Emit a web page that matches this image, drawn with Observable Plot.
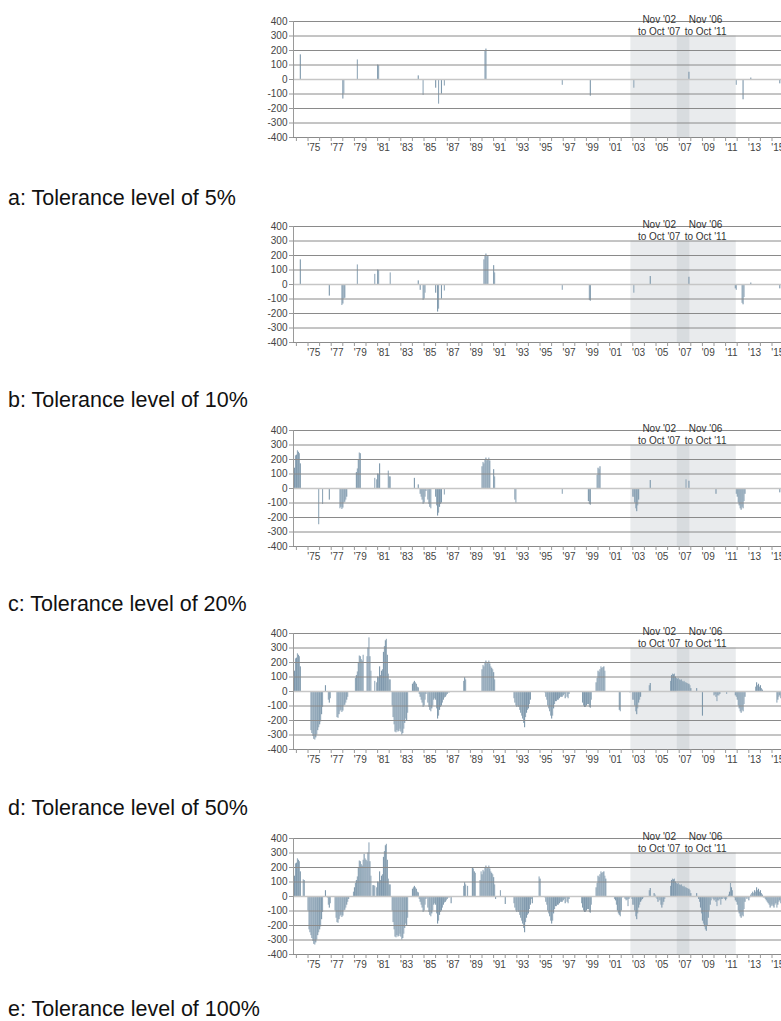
<!DOCTYPE html>
<html><head><meta charset="utf-8">
<script src="https://cdn.jsdelivr.net/npm/d3@7"></script>
<script src="https://cdn.jsdelivr.net/npm/@observablehq/plot@0.6"></script>
<style>
html,body{margin:0;padding:0;overflow:hidden;background:#fff;width:781px;height:1021px;position:relative}
.panel{position:absolute;left:0;width:791px}
.panel svg{max-width:none !important;width:791px;height:170px}
.label{position:absolute;left:8px;font-family:"Liberation Sans",Arial,sans-serif;font-size:21.5px;line-height:24px;color:#111;white-space:nowrap}
</style></head><body>
<script>
// Monthly series (index 0 = Oct 1973)
const firstMonthIndex = 9; // months after Jan 1973
const values = [
  105, 140, 225,                                                   // 1973 Oct-Dec
  230, 260, 250, 240, 170, 0, 0, 115, 110, 0, 0, 0,                 // 1974
  -100, -230, -250, -270, -290, -310, -330, -335, -320, -300, -270, -250, // 1975
  -230, -210, -160, -110, 0, 0, 40, 0, -10, -60, -80, -50,          // 1976
  0, 0, 0, 0, -100, -150, -180, -185, -160, -140, -130, -145,       // 1977
  -135, -100, -95, -80, -60, -40, -20, 0, 0, 0, 0, 30,              // 1978
  60, 90, 110, 135, 200, 245, 240, 220, 210, 250, 290, 260,         // 1979
  250, 240, 300, 370, 240, 140, 0, 75, 75, 70, 0, 60,               // 1980
  100, 95, 170, 110, 140, 150, 270, 310, 350, 360, 250, 120,        // 1981
  80, 80, 0, -100, -180, -230, -280, -285, -270, -280, -275, -260,  // 1982
  -280, -300, -290, -260, -220, -190, -200, -150, 0, 0, 0, 0,       // 1983
  50, 60, 70, 60, 50, 30, 25, -20, -40, -60, -80, -110,             // 1984
  -100, -60, -20, -10, -80, -110, -130, -140, -120, -100, -60, -50, // 1985
  -60, -120, -190, -170, -130, -110, -100, -80, -60, -45, -40, -30, // 1986
  -20, -10, -10, -5, -50, 0, 0, 0, 0, 0, 0, 0,                      // 1987
  0, 0, 0, 0, 0, 70, 95, 80, 0, 70, 0, 0,                           // 1988
  0, 0, 200, 190, 170, 160, 0, 0, 0, 0, 110, 170,                   // 1989
  150, 180, 170, 200, 210, 190, 200, 210, 190, 170, 160, 150,       // 1990
  130, 80, -20, 0, 0, 0, 0, 40, 0, 0, 0, 0,                         // 1991
  -55, 0, 0, 0, 0, 0, 0, 0, 0, -50, -80, -100,                      // 1992
  -110, -100, -110, -130, -150, -170, -190, -220, -250, -180, -150, -130, // 1993
  -120, -90, -60, -20, -50, 0, 0, 0, 0, 0, 0, 135,                  // 1994
  120, 0, 0, 0, 0, -10, -40, -60, -100, -120, -140, -170,           // 1995
  -190, -170, -120, -90, -70, -70, -60, -60, -50, -40, -40, -40,    // 1996
  -30, -20, -50, -10, -40, -50, -20, 0, 0, 0, 0, 0,                 // 1997
  0, 0, 0, 0, 0, 0, 0, -50, -80, -100, -110, -110,                  // 1998
  -100, -90, -90, -110, -115, -60, 0, 0, 0, 0, 60, 90,              // 1999
  140, 130, 150, 170, 160, 165, 170, 140, 120, 0, 0, 0,             // 2000
  0, 0, 0, 0, 0, -20, -30, -60, -100, -120, -130, -140,             // 2001
  -100, -10, -5, -10, -20, -30, -25, -70, -20, -10, 0, -20,         // 2002
  -60, -60, -100, -140, -160, -120, -80, -60, -40, -30, -20, -10,   // 2003
  0, 0, 0, 0, 0, 40, 55, 0, 0, 0, 20, 10,                           // 2004
  -10, -20, -40, -10, -30, -60, -80, -60, -40, -20, 0, 0,           // 2005
  0, 0, 0, 70, 110, 120, 115, 120, 100, 90, 85, 90,                 // 2006
  80, 75, 80, 70, 65, 70, 60, 60, 55, 50, 50, 40,                   // 2007
  20, 0, -5, 0, 0, 0, 20, 0, -20, -40, -80, -120,                   // 2008
  -170, -190, -210, -230, -240, -200, -150, -100, -60, -30, -10, -20, // 2009
  -30, -20, -40, -70, -30, -30, -20, -60, -20, -20, -10, -20,       // 2010
  -30, -20, 0, 10, 30, 90, 60, 40, 0, -10, -30, -40,                // 2011
  -60, -100, -120, -140, -150, -130, -140, -90, -40, -10, -20, -10, // 2012
  -30, -10, 10, 20, 30, 20, 40, 30, 60, 40, 50, 30,                 // 2013
  40, 20, 10, -10, -10, -20, -30, -40, -50, -60, -80, -70,          // 2014
  -60, -70, -80, -60, -50, -80, -60, -40, -30, -50, -40, -30        // 2015
];

// Month ranges (months after Jan 1973, inclusive) shown at each tolerance level
const shownA = [[9,9],[16,16],[60,61],[75,75],[96,97],[138,138],[143,143],[156,156],[159,159],[162,162],[165,165],[207,208],[287,287],[316,316],[361,361],[418,418],[467,467],[474,474],[482,482],[512,512]];
const shownB = [[9,9],[16,16],[46,46],[59,62],[75,75],[93,93],[96,97],[109,109],[138,138],[140,140],[143,145],[156,156],[158,159],[162,162],[165,165],[206,210],[216,217],[287,287],[315,316],[361,361],[378,378],[418,418],[466,467],[473,475],[482,482],[512,512]];
const shownC = [[9,16],[35,35],[39,39],[46,46],[57,64],[74,78],[93,98],[107,109],[134,134],[138,138],[140,146],[148,151],[156,162],[165,165],[204,212],[216,217],[238,239],[287,287],[314,316],[323,326],[360,366],[378,378],[415,415],[418,418],[446,446],[467,476],[512,512]];
const shownD = [[9,16],[27,39],[42,42],[45,47],[54,65],[73,81],[85,89],[93,109],[111,127],[132,146],[148,170],[185,187],[204,217],[237,254],[269,294],[308,317],[322,331],[346,347],[357,357],[360,368],[377,378],[399,420],[426,426],[432,432],[444,450],[457,457],[466,476],[487,494],[509,513]];
const shownE = [[0,600]];

const panelNames = ["a: Tolerance level of 5%", "b: Tolerance level of 10%", "c: Tolerance level of 20%", "d: Tolerance level of 50%", "e: Tolerance level of 100%"];
const panelMasks = [shownA, shownB, shownC, shownD, shownE];

// Highlighted periods
const regionStart = [2002 + 10/12, 2006 + 10/12];
const regionEnd = [2007 + 11/12, 2011 + 11/12];
const regionLine1 = ["Nov '02", "Nov '06"];
const regionLine2 = ["to Oct '07", "to Oct '11"];

const yTicks = [-400, -300, -200, -100, 0, 100, 200, 300, 400];
const yearTicks = d3.range(1974, 2017);
const labelYears = d3.range(1975, 2016, 2);

// layout
const panelTops = [0, 205, 409, 612, 817];
const labelCenters = [198, 400, 604, 808, 1009];

const regions = regionStart.map((s, i) => ({start: s, end: regionEnd[i], mid: (s + regionEnd[i]) / 2 - 0.1, l1: regionLine1[i], l2: regionLine2[i]}));

function rowsFor(mask) {
  const rows = [];
  values.forEach((v, i) => {
    const m = i + firstMonthIndex;
    if (v === 0) return;
    if (!mask.some(([a, b]) => m >= a && m <= b)) return;
    rows.push({x1: 1973 + m / 12, x2: 1973 + (m + 1.15) / 12, v, c: m % 2 ? "#94aabb" : "#7e98ac"});
  });
  return rows;
}

panelMasks.forEach((mask, i) => {
  const rows = rowsFor(mask);
  const chart = Plot.plot({
    width: 791, height: 170,
    marginLeft: 293, marginRight: 5, marginTop: 21, marginBottom: 33,
    x: {domain: [1973.75, 2016.25], label: null},
    y: {domain: [-400, 400], label: null},
    color: {type: "identity"},
    style: {fontFamily: "'Liberation Sans', Arial, sans-serif", fontSize: "10px", color: "#444", background: "transparent", overflow: "visible", maxWidth: "none"},
    marks: [
      Plot.rect(regions, {x1: "start", x2: "end", y1: -400, y2: 300, fill: "#a5aab2", fillOpacity: 0.24}),
      Plot.rect(regions, {x1: d => d.mid - 2.07, x2: d => d.mid + 2.07, y1: 312, y2: 500, fill: "white"}),
      Plot.rectY(rows, {x1: "x1", x2: "x2", y: "v", fill: "c"}),
      Plot.ruleY(yTicks.filter(d => d !== 0), {stroke: "#8a8a8a", strokeWidth: 1}),
      Plot.ruleY([0], {stroke: "#c6c6c6", strokeWidth: 1.5}),
      Plot.ruleX([1973.75], {y1: -400, y2: 400, stroke: "#9a9a9a"}),
      Plot.axisY({ticks: yTicks, tickSize: 4, tickPadding: 2, tickFormat: d => String(d), stroke: "#999", fill: "#444", fontSize: 10, label: null}),
      Plot.axisX({ticks: yearTicks, tickSize: 4, tickFormat: () => "", stroke: "#999", anchor: "bottom", label: null}),
      Plot.axisX({ticks: labelYears.map(y => y + 0.5), tickSize: 0, tickPadding: 6, fill: "#444", fontSize: 10, tickFormat: d => "'" + String(Math.floor(d)).slice(2), anchor: "bottom", label: null}),
      Plot.text(regions, {x: "mid", y: 400, text: d => d.l1 + "\n" + d.l2, lineHeight: 1.28, dy: 3.5, fill: "#333", fontSize: 10})
    ]
  });
  const wrap = document.createElement("div");
  wrap.className = "panel";
  wrap.style.top = panelTops[i] + "px";
  wrap.appendChild(chart);
  document.body.appendChild(wrap);

  const lab = document.createElement("div");
  lab.className = "label";
  lab.style.top = (labelCenters[i] - 12) + "px";
  lab.textContent = panelNames[i];
  document.body.appendChild(lab);
});
</script></body></html>
